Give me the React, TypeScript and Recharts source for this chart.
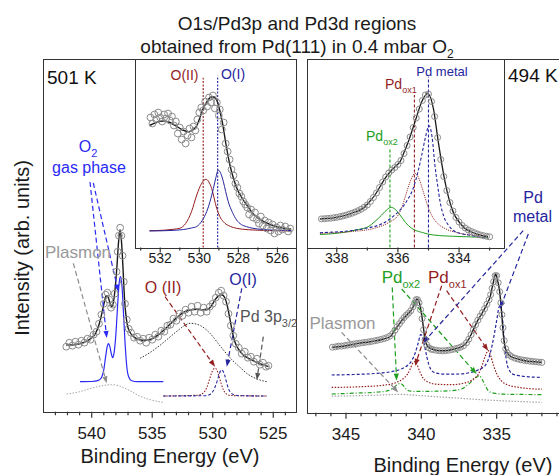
import React from "react";
import { ComposedChart, Line, Scatter, XAxis, YAxis, ReferenceLine } from "recharts";

type P = [number, number];

// ---- left panel: O1s / Pd3p region, 501 K (binding energy eV, intensity) ----
const o1sMeasured: P[] = [
  [542.1, 65], [541.85, 69], [541.6, 66], [541.35, 70], [541.1, 67], [540.85, 71], [540.6, 69], [540.35, 73],
  [540.1, 72], [539.85, 77], [539.6, 80], [539.4, 88], [539.2, 97], [539.0, 108], [538.85, 117], [538.7, 119],
  [538.55, 112], [538.4, 104], [538.25, 107], [538.1, 118], [537.95, 140], [537.85, 160], [537.75, 176],
  [537.65, 184], [537.55, 176], [537.45, 156], [537.35, 130], [537.25, 108], [537.1, 92], [536.95, 83],
  [536.75, 79], [536.5, 74], [536.25, 75], [536.0, 71], [535.75, 73], [535.5, 69], [535.25, 74], [535.0, 72],
  [534.75, 77], [534.5, 75], [534.25, 81], [534.0, 80], [533.75, 86], [533.5, 87], [533.25, 93], [533.0, 91],
  [532.75, 98], [532.5, 96], [532.25, 102], [532.0, 99], [531.75, 105], [531.5, 100], [531.25, 106],
  [531.0, 99], [530.75, 104], [530.5, 100], [530.25, 105], [530.0, 108], [529.75, 114], [529.5, 119],
  [529.3, 121], [529.1, 116], [528.9, 110], [528.7, 98], [528.5, 86], [528.3, 76], [528.1, 68], [527.85, 64],
  [527.6, 58], [527.35, 60], [527.1, 54], [526.85, 55], [526.6, 50], [526.35, 53], [526.1, 47], [525.85, 49],
  [525.6, 45], [525.4, 46],
];
const o1sFit: P[] = [
  [542.1, 66.5], [541.5, 67], [541.0, 68], [540.5, 70], [540.0, 74], [539.7, 78], [539.4, 87], [539.15, 99],
  [538.95, 110], [538.8, 116], [538.65, 115], [538.5, 109], [538.35, 105], [538.2, 110], [538.05, 125],
  [537.9, 148], [537.78, 170], [537.66, 182], [537.55, 172], [537.42, 145], [537.3, 115], [537.15, 94],
  [537.0, 84], [536.7, 77], [536.3, 73], [535.8, 71.5], [535.2, 72], [534.6, 76], [534.0, 82], [533.4, 89],
  [532.8, 96], [532.3, 100], [531.8, 102], [531.3, 102.5], [530.9, 102], [530.5, 102], [530.1, 106],
  [529.8, 112], [529.5, 116], [529.25, 117], [529.0, 114], [528.8, 106], [528.6, 94], [528.4, 81], [528.2, 71],
  [527.9, 63], [527.5, 57], [527.0, 53], [526.5, 50], [526.0, 47.5], [525.4, 45],
];
const o2GasPhase: P[] = [
  [540.97, 30], [540.0, 30.2], [539.5, 31], [539.2, 34], [539.0, 42], [538.85, 55], [538.7, 66], [538.62, 68],
  [538.5, 65], [538.38, 58], [538.27, 54], [538.15, 59], [538.0, 78], [537.85, 108], [537.72, 130],
  [537.62, 135], [537.5, 126], [537.38, 100], [537.25, 70], [537.1, 45], [536.95, 35], [536.7, 31],
  [536.2, 30], [534.08, 30],
];
const o1sPlasmon: P[] = [
  [542.07, 17.7], [541.0, 20], [540.0, 23.5], [539.0, 26.3], [538.35, 27], [537.7, 25.7], [537.0, 22],
  [536.0, 15.5], [535.0, 11.5], [534.1, 9.3],
];
const pd3pBroad: P[] = [
  [536.0, 53.4], [535.2, 59], [534.4, 66], [533.6, 74], [532.8, 82], [532.2, 87], [531.88, 88.4], [531.5, 88],
  [531.0, 86], [530.2, 78], [529.6, 69], [529.12, 61.7], [528.5, 53], [527.8, 45], [527.19, 38.3], [526.4, 33],
  [525.54, 30],
];
const oIIMain: P[] = [
  [534.08, 15.7], [531.2, 16.5], [530.8, 18.5], [530.5, 24], [530.3, 31], [530.1, 38.5], [529.95, 42.5],
  [529.8, 43.3], [529.65, 41.5], [529.5, 36], [529.3, 28], [529.1, 21.5], [528.85, 17.5], [528.5, 16.2],
  [525.54, 15.7],
];
const oIMain: P[] = [
  [534.08, 15.7], [530.6, 16], [530.2, 17.5], [530.0, 20], [529.8, 25], [529.6, 32], [529.45, 38],
  [529.3, 41.7], [529.15, 40.5], [529.0, 36], [528.85, 29], [528.7, 23], [528.5, 19], [528.2, 16.8],
  [527.8, 16], [525.54, 15.7],
];

// ---- left inset: O1s ----
const o1sInsetMeasured: P[] = [
  [532.5, 130], [532.4, 124], [532.3, 133], [532.2, 128], [532.1, 135], [532.0, 130], [531.9, 126], [531.8, 133],
  [531.7, 129], [531.6, 134], [531.5, 127], [531.4, 131], [531.3, 122], [531.2, 126], [531.1, 114], [531.0, 120],
  [530.9, 108], [530.8, 116], [530.7, 104], [530.6, 112], [530.5, 119], [530.4, 110], [530.3, 121], [530.2, 117],
  [530.1, 128], [530.0, 135], [529.9, 140], [529.8, 137], [529.7, 146], [529.6, 141], [529.5, 150], [529.4, 145],
  [529.3, 152], [529.2, 139], [529.1, 145], [529.0, 132], [528.95, 138], [528.85, 118], [528.75, 125],
  [528.65, 104], [528.55, 96], [528.45, 88], [528.35, 78], [528.25, 72], [528.15, 64], [528.05, 60], [527.95, 54],
  [527.85, 51], [527.75, 46], [527.65, 43], [527.55, 40], [527.45, 33], [527.35, 38], [527.25, 30], [527.15, 35],
  [527.05, 28], [526.95, 24], [526.85, 31], [526.75, 22], [526.65, 27], [526.55, 19], [526.45, 25], [526.35, 17],
  [526.25, 23], [526.15, 14], [526.05, 20], [525.95, 16], [525.85, 22], [525.75, 18], [525.6, 21], [525.45, 16],
  [525.35, 19],
];
const o1sInsetFit: P[] = [
  [532.55, 122], [532.2, 125], [531.85, 126.5], [531.5, 125], [531.15, 121], [530.85, 117.5], [530.55, 115.8],
  [530.3, 118], [530.1, 123], [529.95, 131], [529.8, 139], [529.6, 146], [529.4, 150.5], [529.25, 150.5],
  [529.1, 147], [528.95, 137], [528.8, 123], [528.65, 105], [528.45, 84], [528.25, 69], [528.05, 58],
  [527.8, 49], [527.55, 42], [527.25, 34], [527.0, 29.5], [526.6, 25], [526.3, 22.5], [525.9, 20], [525.3, 18.5],
];
const oIIInset: P[] = [
  [532.55, 16.8], [531.8, 17.3], [531.3, 18.3], [531.0, 19.2], [530.7, 24], [530.4, 35.8], [530.13, 52.5],
  [529.88, 64.2], [529.66, 68.2], [529.37, 59.2], [529.11, 39.2], [528.95, 31], [528.77, 25.8], [528.4, 21],
  [528.09, 19.2], [527.5, 17.8], [526.5, 17], [525.3, 16.5],
];
const oIInset: P[] = [
  [532.55, 16.5], [531.5, 17], [530.8, 18], [530.4, 19.5], [530.13, 21], [529.85, 27], [529.62, 36],
  [529.45, 46], [529.28, 59], [529.15, 70], [529.03, 77.5], [528.9, 74], [528.77, 66], [528.65, 56],
  [528.52, 46], [528.3, 35], [528.09, 27.5], [527.85, 23], [527.58, 20.8], [527.0, 18.5], [526.3, 17.5],
  [525.3, 17],
];

// ---- right panel: Pd3d region, 494 K ----
const pd3dMeasured: P[] = [
  [345.9, 65.5], [345.7, 65.8], [345.5, 66.5], [345.3, 66.6], [345.1, 67], [344.9, 67.6], [344.7, 68], [344.5, 68.6],
  [344.3, 69.1], [344.1, 69.5], [343.9, 70], [343.7, 70.4], [343.5, 70.8], [343.3, 71.3], [343.1, 71.9],
  [342.9, 72.5], [342.7, 73.2], [342.5, 74], [342.3, 75], [342.1, 76.5], [341.9, 79], [341.75, 82.5],
  [341.6, 86], [341.45, 89], [341.3, 92], [341.15, 95], [341.0, 97.5], [340.85, 99.5], [340.7, 102],
  [340.55, 106], [340.45, 109.5], [340.35, 113], [340.25, 113], [340.15, 110], [340.05, 103], [339.95, 94],
  [339.85, 83], [339.75, 73], [339.65, 68], [339.5, 65], [339.35, 63.5], [339.2, 63], [339.0, 62.4],
  [338.8, 62], [338.6, 61.9], [338.4, 62], [338.2, 62.5], [338.0, 63], [337.8, 63.7], [337.6, 64.5],
  [337.4, 65.5], [337.2, 67], [337.0, 70], [336.85, 73.5], [336.7, 78], [336.55, 83], [336.4, 88],
  [336.25, 92.5], [336.1, 96.5], [335.95, 100], [335.8, 104], [335.65, 108.5], [335.5, 113], [335.4, 118],
  [335.3, 124.5], [335.2, 131], [335.1, 137], [335.0, 137], [334.9, 130], [334.8, 121], [334.72, 110],
  [334.65, 98], [334.58, 85], [334.5, 72], [334.4, 64], [334.3, 60], [334.15, 57.5], [334.0, 56],
  [333.8, 54.6], [333.6, 53.7], [333.4, 53], [333.2, 52.5], [333.0, 52], [332.8, 51.6], [332.6, 51.2],
  [332.4, 50.9], [332.2, 50.6], [332.0, 50.3],
];
const pd3dFit: P[] = [
  [345.95, 65.3], [345.0, 67], [344.2, 69.3], [343.4, 71], [342.5, 73.7], [342.0, 77], [341.75, 82.7],
  [341.5, 88], [341.2, 94], [340.9, 98.7], [340.6, 104], [340.45, 109], [340.3, 113.7], [340.15, 111],
  [340.0, 100], [339.85, 84], [339.75, 72], [339.55, 66], [339.3, 63.7], [338.8, 62], [338.4, 62], [338.0, 63],
  [337.6, 64.5], [337.3, 66], [337.0, 70], [336.7, 78], [336.4, 88], [336.15, 95], [336.0, 98.7], [335.8, 104],
  [335.6, 110], [335.44, 115.3], [335.3, 125], [335.15, 135], [335.07, 138.7], [334.95, 133], [334.8, 121],
  [334.67, 100], [334.56, 78.7], [334.45, 66], [334.3, 60], [334.12, 57], [333.8, 54.5], [333.4, 53],
  [333.12, 52], [332.5, 51], [332.0, 50.3],
];
const pdMetalMain: P[] = [
  [345.95, 37.7], [344.5, 38.2], [343.0, 39.3], [342.0, 41], [341.3, 44], [340.9, 47.5], [340.64, 52],
  [340.4, 60], [340.2, 70], [340.05, 78], [339.93, 77], [339.8, 68], [339.65, 57], [339.5, 48], [339.31, 42],
  [339.0, 39.5], [338.3, 38.5], [337.5, 38.7], [336.8, 40], [336.2, 43], [335.77, 47], [335.45, 58],
  [335.2, 75], [335.0, 92], [334.85, 105], [334.75, 108], [334.62, 95], [334.45, 64], [334.3, 48],
  [334.1, 41], [334.0, 39], [333.5, 37], [332.8, 35.8], [332.0, 35.3],
];
const pdOx1Main: P[] = [
  [345.95, 25.3], [344.0, 26], [342.5, 27.5], [341.7, 30], [341.2, 34], [340.9, 39], [340.7, 45], [340.55, 50],
  [340.42, 51], [340.3, 48.5], [340.1, 41], [339.9, 35], [339.6, 31], [339.0, 28.5], [338.0, 28], [337.2, 29.5],
  [336.6, 33], [336.2, 39], [335.95, 48], [335.75, 57], [335.56, 62], [335.4, 57], [335.2, 47], [335.0, 39],
  [334.7, 32], [334.3, 28], [333.6, 25.5], [332.8, 24], [332.0, 23.5],
];
const pdOx2Main: P[] = [
  [345.95, 18.7], [344.5, 19.5], [343.0, 20.5], [342.2, 22], [341.8, 25.5], [341.55, 28.5], [341.42, 29.3],
  [341.25, 28], [341.0, 23.5], [340.7, 21.5], [340.0, 21.3], [339.0, 21.5], [338.0, 22], [337.3, 24],
  [336.9, 28], [336.55, 33], [336.3, 36], [336.15, 37], [335.95, 33], [335.75, 27], [335.56, 22],
  [335.2, 19.5], [334.5, 18.5], [333.0, 18.2], [332.0, 18],
];
const pd3dPlasmon: P[] = [
  [345.95, 16.5], [343.0, 17.5], [341.5, 18.3], [340.0, 17], [338.0, 15], [336.0, 13], [334.0, 11.5], [332.0, 10.3],
];

// ---- right inset: Pd3d5/2 ----
const pdInsetMeasured: P[] = [
  [338.5, 28.6], [338.4, 28.8], [338.3, 29.1], [338.2, 29.3], [338.1, 29.7], [338.0, 30.2], [337.9, 30.8],
  [337.8, 31.5], [337.7, 32.3], [337.6, 33.3], [337.5, 34.3], [337.4, 35.5], [337.3, 36.8], [337.2, 38.3],
  [337.1, 40.3], [337.0, 42.5], [336.9, 46], [336.8, 50], [336.7, 54.5], [336.6, 60], [336.5, 65.5],
  [336.4, 70.5], [336.3, 74.5], [336.2, 77.5], [336.1, 80], [336.0, 83], [335.9, 87], [335.8, 94], [335.7, 102],
  [335.6, 110.5], [335.5, 120], [335.4, 129.5], [335.3, 138.5], [335.2, 147], [335.1, 152.5], [335.0, 153.5],
  [334.9, 146], [334.8, 131], [334.7, 110], [334.6, 88], [334.5, 71], [334.4, 57], [334.3, 45], [334.2, 36.5],
  [334.1, 30], [334.0, 25.5], [333.9, 22], [333.8, 19.5], [333.7, 17.5], [333.6, 16], [333.5, 14.8],
  [333.4, 13.5], [333.3, 12.5], [333.2, 11.8], [333.1, 11.2], [333.0, 10.7],
];
const pdInsetFit: P[] = [
  [338.55, 28.5], [338.06, 29.8], [337.51, 34.2], [337.08, 40.8], [336.95, 45], [336.75, 52.5], [336.6, 60],
  [336.42, 69.2], [336.2, 77.5], [336.05, 82], [335.93, 85.8], [335.8, 95], [335.66, 105.8], [335.44, 125.8],
  [335.22, 145.8], [335.03, 154.2], [334.84, 139.2], [334.68, 105.8], [334.46, 65.8], [334.24, 39.2],
  [333.92, 22.5], [333.48, 14.2], [333.05, 10.8],
];
const pdMetalInset: P[] = [
  [338.55, 14.8], [337.5, 17], [337.0, 19.5], [336.5, 24], [336.2, 30], [335.88, 39.2], [335.7, 47],
  [335.5, 59.2], [335.35, 75], [335.22, 92.5], [335.1, 110], [334.98, 121.8], [334.88, 110], [334.79, 82.5],
  [334.7, 62], [334.62, 45.8], [334.5, 31], [334.35, 22.5], [334.1, 15.5], [333.6, 12], [333.05, 9],
];
const pdOx1Inset: P[] = [
  [338.55, 14.2], [337.5, 16], [336.8, 19], [336.3, 25], [335.99, 32.5], [335.85, 42], [335.71, 55.8],
  [335.57, 68], [335.44, 74.2], [335.3, 68], [335.17, 55.8], [335.03, 42], [334.9, 32.5], [334.7, 24],
  [334.46, 19], [334.0, 14.5], [333.05, 11],
];
const pdOx2Inset: P[] = [
  [338.55, 13], [337.8, 15], [337.3, 18], [336.97, 20.8], [336.75, 26], [336.53, 32.5], [336.35, 38],
  [336.23, 40.2], [336.1, 38.5], [335.93, 32.5], [335.75, 25], [335.55, 19.2], [335.2, 15], [334.84, 12.5],
  [334.0, 11], [333.05, 10],
];

// ---- axis ticks ----
const leftTicks = [524, 525, 526, 527, 528, 529, 530, 531, 532, 533, 534, 535, 536, 537, 538, 539, 540, 541, 542, 543];
const leftLabels = [525, 530, 535, 540];
const leftInsetTicks = [526, 527, 528, 529, 530, 531, 532, 533];
const leftInsetLabels = [526, 528, 530, 532];
const rightTicks = [330, 331, 332, 333, 334, 335, 336, 337, 338, 339, 340, 341, 342, 343, 344, 345, 346, 347];
const rightLabels = [335, 340, 345];
const rightInsetTicks = [333, 334, 335, 336, 337, 338];
const rightInsetLabels = [334, 336, 338];

const FONT = "'Liberation Sans', Arial, Helvetica, sans-serif";
const CIRCLE = "#8a8a8a";
const FIT = "#1a1a1a";
const BLUE = "#2a2af5";
const NAVY = "#25259e";
const RED = "#931f1f";
const GREEN = "#1f9e1f";
const PLASMON = "#a5a5a5";
const FRAME = "#333";

// annotation arrows, in data units [BE, intensity]
const leftArrows = [
  { from: [540.14, 229.7], to: [538.76, 73.7], color: BLUE },
  { from: [539.87, 228.7], to: [537.8, 120], color: BLUE },
  { from: [541.52, 148.4], to: [538.76, 28.4], color: "#8c8c8c" },
  { from: [533.94, 115], to: [529.81, 45], color: RED },
  { from: [527.6, 123.4], to: [528.84, 45], color: NAVY },
  { from: [525.82, 75], to: [526.36, 31.7], color: "#555" },
];
const rightArrows = [
  { from: [345.29, 80.3], to: [341.53, 20.3], color: "#8c8c8c" },
  { from: [341.93, 125.3], to: [341.64, 32], color: GREEN },
  { from: [341.3, 123.7], to: [336.33, 38.7], color: GREEN },
  { from: [338.65, 127], to: [340.42, 47], color: RED },
  { from: [338.32, 122], to: [335.56, 62], color: RED },
  { from: [333.24, 182], to: [339.87, 70], color: NAVY },
  { from: [332.9, 178.7], to: [334.78, 104], color: NAVY },
];

const pts = (a: P[]) => a.map(([be, v]) => ({ be, v }));

const ring = (r: number) => (p: any) => (
  <circle cx={p.cx} cy={p.cy} r={r} fill="none" stroke={CIRCLE} strokeWidth={1} />
);

const arrowShape = (color: string) => (p: any) => {
  const { x1, y1, x2, y2 } = p;
  const a = Math.atan2(y2 - y1, x2 - x1);
  const L = 7;
  const W = 2.6;
  const bx = x2 - L * Math.cos(a);
  const by = y2 - L * Math.sin(a);
  const s = Math.sin(a);
  const c = Math.cos(a);
  return (
    <g>
      <line x1={x1} y1={y1} x2={bx} y2={by} stroke={color} strokeWidth={1.2} strokeDasharray="5 3" />
      <polygon points={`${x2},${y2} ${bx + W * s},${by - W * c} ${bx - W * s},${by + W * c}`} fill={color} />
    </g>
  );
};

const tickRenderer = (labels: number[], fs: number, majorLen: number, minorLen: number, gap: number) => (p: any) => {
  const { x, y, payload } = p;
  const major = labels.includes(payload.value);
  return (
    <g>
      <line x1={x} y1={y} x2={x} y2={y + (major ? majorLen : minorLen)} stroke={FRAME} strokeWidth={1.2} />
      {major && (
        <text x={x} y={y + gap} dy="0.71em" textAnchor="middle" fontSize={fs} fontFamily={FONT} fill="#1a1a1a">
          {payload.value}
        </text>
      )}
    </g>
  );
};

const Txt = ({ x, y, size, color, left, children }: any) => (
  <div
    style={{
      position: "absolute",
      left: x,
      top: y,
      transform: left ? "translate(0,-50%)" : "translate(-50%,-50%)",
      fontSize: size,
      color,
      whiteSpace: "nowrap",
      lineHeight: 1,
      fontFamily: FONT,
    }}
  >
    {children}
  </div>
);

const Sub = ({ size, children }: any) => (
  <span style={{ fontSize: size, position: "relative", top: size * 0.45 }}>{children}</span>
);

const Frame = ({ x, y, w, h, white }: any) => (
  <div
    style={{
      position: "absolute",
      left: x - 0.7,
      top: y - 0.7,
      width: w,
      height: h,
      border: `1.4px solid ${FRAME}`,
      background: white ? "#fff" : "transparent",
    }}
  />
);

export default function App() {
  return (
    <div style={{ position: "absolute", left: 0, top: 0, width: 559, height: 475, overflow: "hidden", background: "#fff", fontFamily: FONT }}>
      {/* left main panel */}
      <div style={{ position: "absolute", left: 0, top: 0 }}>
        <ComposedChart width={300} height={475} margin={{ top: 59.5, right: 4, bottom: 23.3, left: 43.3 }}>
          <XAxis type="number" dataKey="be" domain={[523.12, 544]} reversed allowDataOverflow ticks={leftTicks} interval={0}
            tickLine={false} axisLine={false} tickSize={0} tickMargin={0} height={40} tick={tickRenderer(leftLabels, 17, 6, 3.5, 15)} />
          <YAxis type="number" dataKey="v" domain={[0, 352.2]} hide allowDataOverflow />
          <Line data={pts(o1sPlasmon)} dataKey="v" type="monotone" stroke={PLASMON} strokeWidth={1} strokeDasharray="1.5 1.5" dot={false} isAnimationActive={false} />
          <Line data={pts(pd3pBroad)} dataKey="v" type="monotone" stroke="#333" strokeWidth={1} strokeDasharray="1.5 1.5" dot={false} isAnimationActive={false} />
          <Line data={pts(o2GasPhase)} dataKey="v" type="monotone" stroke={BLUE} strokeWidth={1.2} dot={false} isAnimationActive={false} />
          <Line data={pts(oIIMain)} dataKey="v" type="monotone" stroke={RED} strokeWidth={1.1} strokeDasharray="1.5 1.5" dot={false} isAnimationActive={false} />
          <Line data={pts(oIMain)} dataKey="v" type="monotone" stroke={NAVY} strokeWidth={1.1} strokeDasharray="3 2" dot={false} isAnimationActive={false} />
          <Scatter data={pts(o1sMeasured)} dataKey="v" shape={ring(3.4)} isAnimationActive={false} />
          <Line data={pts(o1sFit)} dataKey="v" type="monotone" stroke={FIT} strokeWidth={1.4} dot={false} isAnimationActive={false} />
          {leftArrows.map((a, i) => (
            <ReferenceLine key={i} segment={[{ x: a.from[0], y: a.from[1] }, { x: a.to[0], y: a.to[1] }]} stroke={a.color} ifOverflow="visible" shape={arrowShape(a.color)} />
          ))}
        </ComposedChart>
      </div>

      {/* right main panel */}
      <div style={{ position: "absolute", left: 300, top: 0 }}>
        <ComposedChart width={280} height={475} margin={{ top: 59.5, right: 0, bottom: 22.3, left: 7.7 }}>
          <XAxis type="number" dataKey="be" domain={[329.47, 347.54]} reversed allowDataOverflow ticks={rightTicks} interval={0}
            tickLine={false} axisLine={false} tickSize={0} tickMargin={0} height={40} tick={tickRenderer(rightLabels, 17, 6, 3.5, 15)} />
          <YAxis type="number" dataKey="v" domain={[0, 353.2]} hide allowDataOverflow />
          <Line data={pts(pd3dPlasmon)} dataKey="v" type="monotone" stroke={PLASMON} strokeWidth={1.2} strokeDasharray="1.5 1.5" dot={false} isAnimationActive={false} />
          <Line data={pts(pdOx2Main)} dataKey="v" type="monotone" stroke={GREEN} strokeWidth={1.2} strokeDasharray="4 2 1 2" dot={false} isAnimationActive={false} />
          <Line data={pts(pdOx1Main)} dataKey="v" type="monotone" stroke={RED} strokeWidth={1.2} strokeDasharray="1.5 1.5" dot={false} isAnimationActive={false} />
          <Line data={pts(pdMetalMain)} dataKey="v" type="monotone" stroke={NAVY} strokeWidth={1.2} strokeDasharray="3 2" dot={false} isAnimationActive={false} />
          <Scatter data={pts(pd3dMeasured)} dataKey="v" shape={ring(3)} isAnimationActive={false} />
          <Line data={pts(pd3dFit)} dataKey="v" type="monotone" stroke={FIT} strokeWidth={1.4} dot={false} isAnimationActive={false} />
          {rightArrows.map((a, i) => (
            <ReferenceLine key={i} segment={[{ x: a.from[0], y: a.from[1] }, { x: a.to[0], y: a.to[1] }]} stroke={a.color} ifOverflow="visible" shape={arrowShape(a.color)} />
          ))}
        </ComposedChart>
      </div>

      <Frame x={136} y={59.5} w={160} h={188} white />
      <Frame x={307.7} y={59.5} w={196.3} h={188} white />

      {/* left inset */}
      <div style={{ position: "absolute", left: 100, top: 0 }}>
        <ComposedChart width={200} height={290} margin={{ top: 59.5, right: 4, bottom: 12.5, left: 36 }}>
          <XAxis type="number" dataKey="be" domain={[525.05, 533.24]} reversed allowDataOverflow ticks={leftInsetTicks} interval={0}
            tickLine={false} axisLine={false} tickSize={0} tickMargin={0} height={30} tick={tickRenderer(leftInsetLabels, 14, 5, 3, 6)} />
          <YAxis type="number" dataKey="v" domain={[0, 188]} hide allowDataOverflow />
          <ReferenceLine segment={[{ x: 529.8, y: 0 }, { x: 529.8, y: 169.8 }]} stroke={RED} strokeWidth={1.1} strokeDasharray="2 1.5" />
          <ReferenceLine segment={[{ x: 529.06, y: 0 }, { x: 529.06, y: 171.8 }]} stroke={NAVY} strokeWidth={1.1} strokeDasharray="2 1.5" />
          <Line data={pts(oIIInset)} dataKey="v" type="monotone" stroke={RED} strokeWidth={1} dot={false} isAnimationActive={false} />
          <Line data={pts(oIInset)} dataKey="v" type="monotone" stroke={NAVY} strokeWidth={1} dot={false} isAnimationActive={false} />
          <Scatter data={pts(o1sInsetMeasured)} dataKey="v" shape={ring(3.4)} isAnimationActive={false} />
          <Line data={pts(o1sInsetFit)} dataKey="v" type="monotone" stroke={FIT} strokeWidth={1.4} dot={false} isAnimationActive={false} />
        </ComposedChart>
      </div>

      {/* right inset */}
      <div style={{ position: "absolute", left: 280, top: 0 }}>
        <ComposedChart width={230} height={290} margin={{ top: 59.5, right: 6, bottom: 12.5, left: 27.7 }}>
          <XAxis type="number" dataKey="be" domain={[332.53, 338.95]} reversed allowDataOverflow ticks={rightInsetTicks} interval={0}
            tickLine={false} axisLine={false} tickSize={0} tickMargin={0} height={30} tick={tickRenderer(rightInsetLabels, 14, 5, 3, 6)} />
          <YAxis type="number" dataKey="v" domain={[0, 188]} hide allowDataOverflow />
          <ReferenceLine segment={[{ x: 336.26, y: 0 }, { x: 336.26, y: 99.2 }]} stroke={GREEN} strokeWidth={1.1} strokeDasharray="3 2" />
          <ReferenceLine segment={[{ x: 335.46, y: 0 }, { x: 335.46, y: 152.5 }]} stroke={RED} strokeWidth={1.1} strokeDasharray="3 2" />
          <ReferenceLine segment={[{ x: 335.0, y: 0 }, { x: 335.0, y: 170.8 }]} stroke={NAVY} strokeWidth={1.1} strokeDasharray="3 2" />
          <Line data={pts(pdOx2Inset)} dataKey="v" type="monotone" stroke={GREEN} strokeWidth={1} dot={false} isAnimationActive={false} />
          <Line data={pts(pdOx1Inset)} dataKey="v" type="monotone" stroke={RED} strokeWidth={0.9} strokeDasharray="1.2 1" dot={false} isAnimationActive={false} />
          <Line data={pts(pdMetalInset)} dataKey="v" type="monotone" stroke={NAVY} strokeWidth={1.1} strokeDasharray="3 2" dot={false} isAnimationActive={false} />
          <Scatter data={pts(pdInsetMeasured)} dataKey="v" shape={ring(3)} isAnimationActive={false} />
          <Line data={pts(pdInsetFit)} dataKey="v" type="monotone" stroke={FIT} strokeWidth={1.3} dot={false} isAnimationActive={false} />
        </ComposedChart>
      </div>

      <Frame x={43.3} y={59.5} w={252.7} h={352.2} />
      <Frame x={307.7} y={59.5} w={300} h={353.2} />

      {/* titles */}
      <Txt x={297} y={23} size={19} color="#1a1a1a">O1s/Pd3p and Pd3d regions</Txt>
      <Txt x={297} y={46} size={19} color="#1a1a1a">obtained from Pd(111) in 0.4 mbar O<Sub size={12}>2</Sub></Txt>
      <Txt x={170} y={456} size={20} color="#1a1a1a">Binding Energy (eV)</Txt>
      <Txt x={463} y={465} size={20} color="#1a1a1a">Binding Energy (eV)</Txt>
      <div style={{ position: "absolute", left: 22, top: 248, transform: "translate(-50%,-50%) rotate(-90deg)", fontSize: 20, whiteSpace: "nowrap", lineHeight: 1, color: "#1a1a1a" }}>
        Intensity (arb. units)
      </div>

      {/* left panel labels */}
      <Txt x={47} y={77} size={19} color="#111" left>501 K</Txt>
      <Txt x={88} y={147} size={16} color={BLUE}>O<Sub size={11}>2</Sub></Txt>
      <Txt x={89} y={168} size={16} color={BLUE}>gas phase</Txt>
      <Txt x={78} y={252} size={17} color="#999">Plasmon</Txt>
      <Txt x={163} y={288} size={16} color={RED}>O (II)</Txt>
      <Txt x={243} y={280} size={16} color={NAVY}>O(I)</Txt>
      <Txt x={240} y={317} size={16} color="#555" left>Pd 3p<Sub size={11}>3/2</Sub></Txt>
      <Txt x={184.5} y={75} size={14} color={RED}>O(II)</Txt>
      <Txt x={233} y={74} size={14} color={NAVY}>O(I)</Txt>

      {/* right panel labels */}
      <Txt x={508} y={75} size={19} color="#111" left>494 K</Txt>
      <Txt x={442} y={71} size={13} color={NAVY}>Pd metal</Txt>
      <Txt x={385} y={84} size={14} color={RED} left>Pd<Sub size={9}>ox1</Sub></Txt>
      <Txt x={366} y={136} size={14} color={GREEN} left>Pd<Sub size={9}>ox2</Sub></Txt>
      <Txt x={533} y={198} size={16} color={NAVY}>Pd</Txt>
      <Txt x={532.5} y={216.5} size={16} color={NAVY}>metal</Txt>
      <Txt x={381.7} y={277} size={17} color={GREEN} left>Pd<Sub size={11}>ox2</Sub></Txt>
      <Txt x={428} y={277} size={17} color={RED} left>Pd<Sub size={11}>ox1</Sub></Txt>
      <Txt x={342.5} y={323} size={17} color="#999">Plasmon</Txt>
    </div>
  );
}
